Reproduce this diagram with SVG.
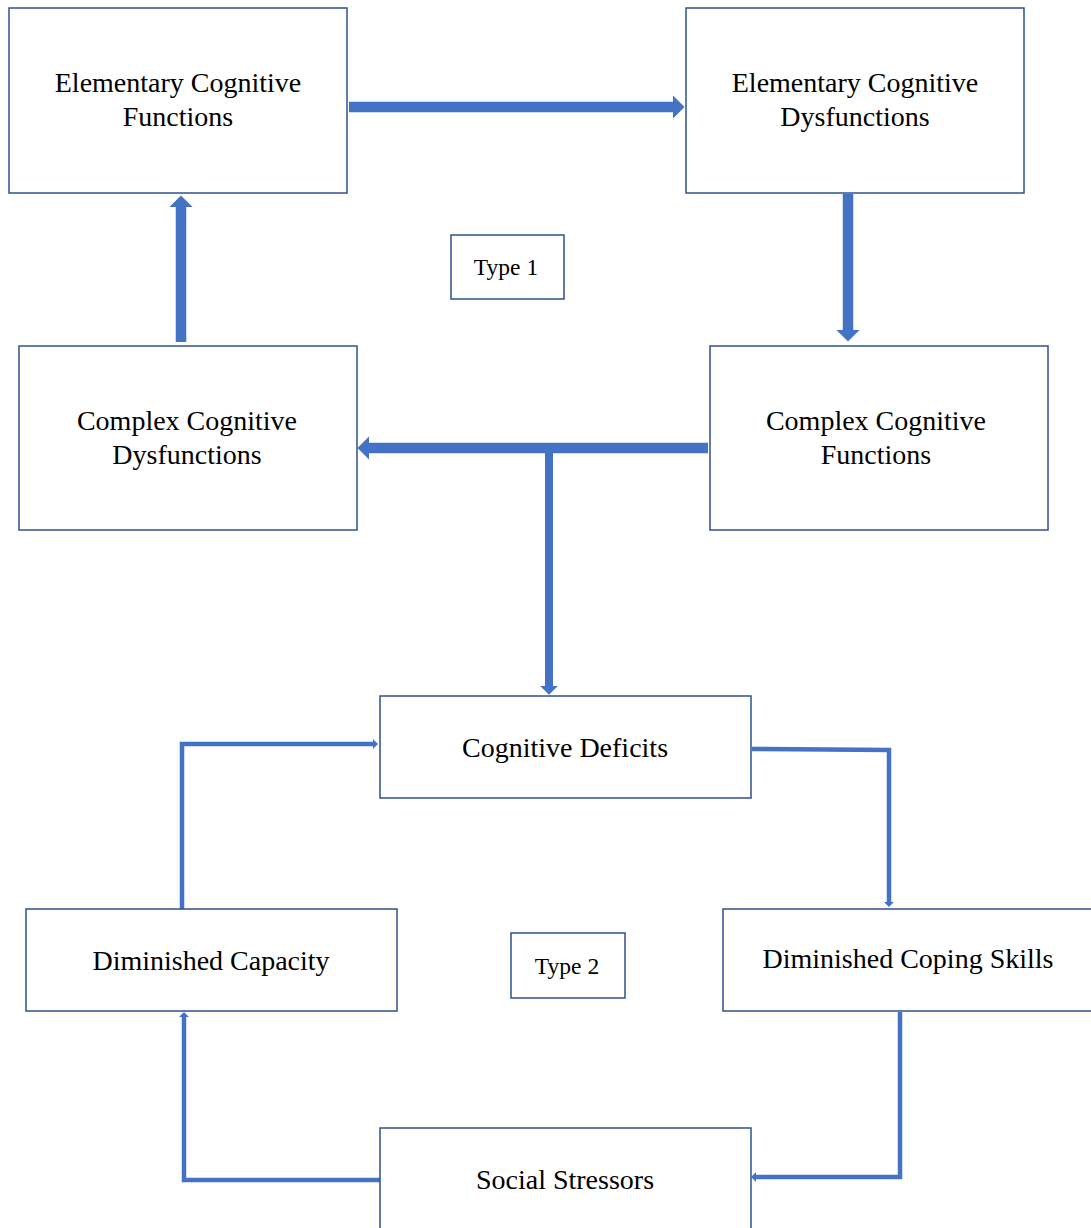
<svg xmlns="http://www.w3.org/2000/svg" width="1091" height="1228" viewBox="0 0 1091 1228">
<defs>
<style>
.box{fill:#ffffff;stroke:#2F528F;stroke-width:1.5}
.lbl{font-family:"Liberation Serif","Times New Roman",serif;font-size:28px;fill:#000;text-anchor:middle}
.sm{font-size:23.5px}
.con{fill:none;stroke:#4472C4;stroke-linejoin:miter;stroke-linecap:butt;marker-end:url(#ah)}
.thick{stroke-width:10.5}
.thin{stroke-width:4.5}
</style>
<marker id="ah" viewBox="0 0 1.1 2.2" refX="0" refY="1.1" markerWidth="1.1" markerHeight="2.2" markerUnits="strokeWidth" orient="auto">
<path d="M0,0 L1.1,1.1 L0,2.2 z" fill="#4472C4"/>
</marker>
</defs>
<rect width="1091" height="1228" fill="#ffffff"/>
<g id="connectors">
<path class="con thick" d="M349,107 H673"/>
<path class="con thick" d="M181,342 V207"/>
<path class="con thick" d="M848,194 V330"/>
<path class="con thick" d="M708,448 H369"/>
<path class="con" style="stroke-width:8" d="M549,453 V686"/>
<path class="con thin" d="M182,909 V744 H373"/>
<path class="con thin" d="M752,749 L889,750 V902"/>
<path class="con thin" d="M900,1012 V1177 H756"/>
<path class="con thin" d="M380,1180 H184 V1017"/>
</g>
<g id="n-ecf"><rect class="box" x="9" y="8" width="338" height="185"/><text class="lbl" x="178" y="92">Elementary Cognitive</text><text class="lbl" x="178" y="126">Functions</text></g>
<g id="n-ecd"><rect class="box" x="686" y="8" width="338" height="185"/><text class="lbl" x="855" y="92">Elementary Cognitive</text><text class="lbl" x="855" y="126">Dysfunctions</text></g>
<g id="n-type1"><rect class="box" x="451" y="235" width="113" height="64"/><text class="lbl sm" x="506" y="275">Type 1</text></g>
<g id="n-ccd"><rect class="box" x="19" y="346" width="338" height="184"/><text class="lbl" x="187" y="430">Complex Cognitive</text><text class="lbl" x="187" y="464">Dysfunctions</text></g>
<g id="n-ccf"><rect class="box" x="710" y="346" width="338" height="184"/><text class="lbl" x="876" y="430">Complex Cognitive</text><text class="lbl" x="876" y="464">Functions</text></g>
<g id="n-cd"><rect class="box" x="380" y="696" width="371" height="102"/><text class="lbl" x="565" y="757">Cognitive Deficits</text></g>
<g id="n-dc"><rect class="box" x="26" y="909" width="371" height="102"/><text class="lbl" x="211" y="970">Diminished Capacity</text></g>
<g id="n-type2"><rect class="box" x="511" y="933" width="114" height="65"/><text class="lbl sm" x="567" y="974">Type 2</text></g>
<g id="n-dcs"><rect class="box" x="723" y="909" width="400" height="102"/><text class="lbl" x="908" y="968">Diminished Coping Skills</text></g>
<g id="n-ss"><rect class="box" x="380" y="1128" width="371" height="130"/><text class="lbl" x="565" y="1189">Social Stressors</text></g>
</svg>
